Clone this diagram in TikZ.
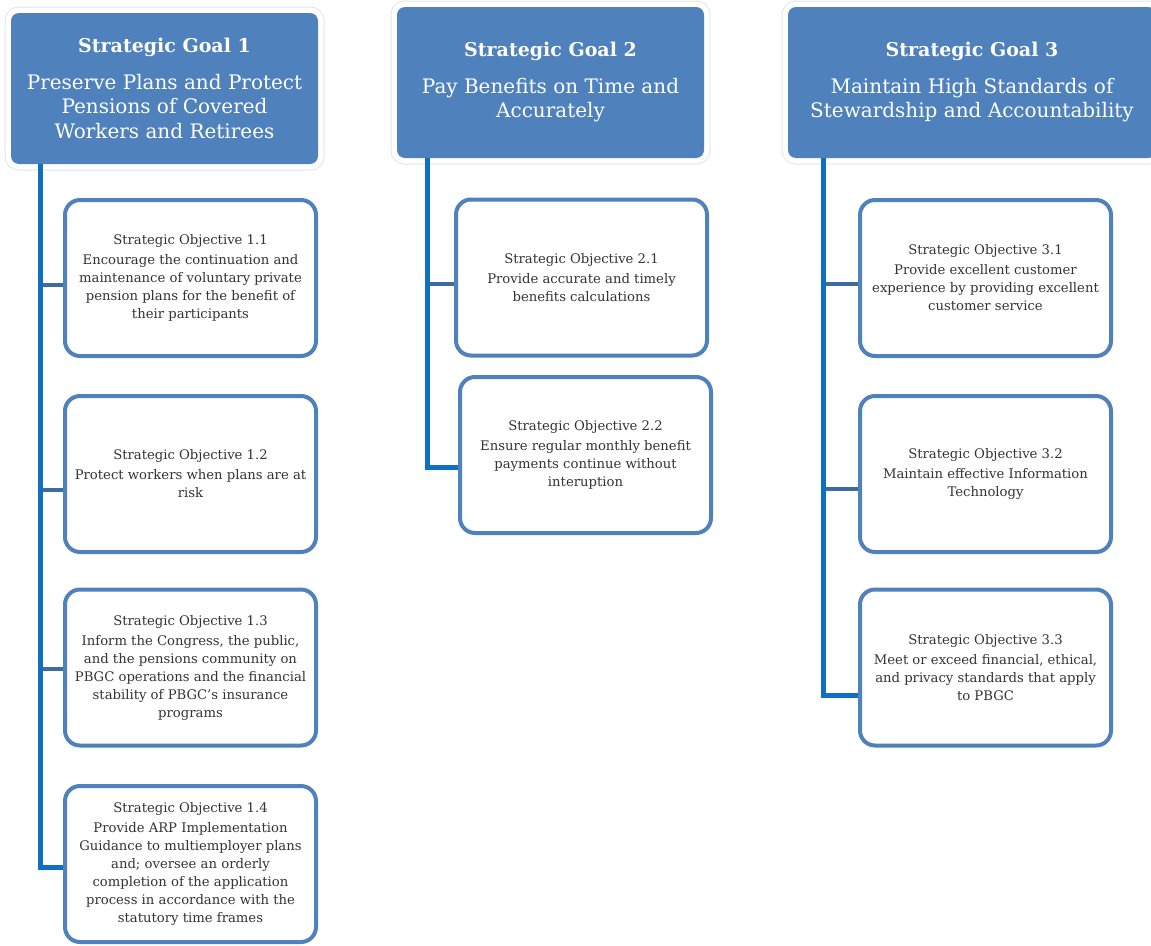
\documentclass[tikz,border=0pt]{standalone}
\usepackage{fontspec}
\setmainfont{DejaVu Serif}
\definecolor{goalblue}{HTML}{4F81BD}
\definecolor{objblue}{HTML}{4F81BD}
\definecolor{connblue}{HTML}{0F6FC0}
\definecolor{branchblue}{HTML}{3D6CA3}
\newcommand\goalfnt{\fontsize{20}{24.5}\selectfont}
\newcommand\goaltitle[1]{{\fontsize{19}{24.5}\selectfont\bfseries #1}}
\newcommand\objfnt{\fontsize{13.2}{18}\selectfont}
\begin{document}
\begin{tikzpicture}[x=1pt,y=-1pt,
  goal/.style={rounded corners=8pt, fill=goalblue, text=white, align=center,
    minimum width=307pt, minimum height=151pt, inner sep=0pt, font=\goalfnt,
    preaction={draw=black!10, line width=13pt},
    preaction={draw=white, line width=11pt}},
  obj/.style={rounded corners=15pt, draw=objblue, line width=4pt, fill=white,
    align=center, minimum width=251pt, minimum height=156pt, inner sep=0pt,
    text=black!80, font=\objfnt},
  trunk/.style={draw=connblue, line width=5pt},
  branch/.style={draw=branchblue, line width=4pt}]
\useasboundingbox (0,0) rectangle (1151,945);
\fill[white] (0,0) rectangle (1151,945);

% trunk coordinates
\coordinate (b11) at (40,285);
\coordinate (b12) at (40,490);
\coordinate (b13) at (40,669);
\coordinate (e1) at (40,867);
\coordinate (b21) at (427,284);
\coordinate (e2) at (427,467);
\coordinate (b31) at (823,284);
\coordinate (b32) at (823,489);
\coordinate (e3) at (823,695);

% objectives
\node[obj] (o11) at (190.5,278) {Strategic Objective 1.1\\[2pt]Encourage the continuation and\\maintenance of voluntary private\\pension plans for the benefit of\\their participants};
\node[obj] (o12) at (190.5,474) {Strategic Objective 1.2\\[2pt]Protect workers when plans are at\\risk};
\node[obj] (o13) at (190.5,667.5) {Strategic Objective 1.3\\[2pt]Inform the Congress, the public,\\and the pensions community on\\PBGC operations and the financial\\stability of PBGC's insurance\\programs};
\node[obj] (o14) at (190.5,864) {Strategic Objective 1.4\\[2pt]Provide ARP Implementation\\Guidance to multiemployer plans\\and; oversee an orderly\\completion of the application\\process in accordance with the\\statutory time frames};
\node[obj] (o21) at (581.5,277.5) {Strategic Objective 2.1\\[2pt]Provide accurate and timely\\benefits calculations};
\node[obj] (o22) at (585.5,455) {Strategic Objective 2.2\\[2pt]Ensure regular monthly benefit\\payments continue without\\interuption};
\node[obj] (o31) at (985.5,278) {Strategic Objective 3.1\\[2pt]Provide excellent customer\\experience by providing excellent\\customer service};
\node[obj] (o32) at (985.5,474) {Strategic Objective 3.2\\[2pt]Maintain effective Information\\Technology};
\node[obj] (o33) at (985.5,667.5) {Strategic Objective 3.3\\[2pt]Meet or exceed financial, ethical,\\and privacy standards that apply\\to PBGC};

% goals
\node[goal] (g1) at (164.5,88.5) {\goaltitle{Strategic Goal 1}\\[12pt]Preserve Plans and Protect\\Pensions of Covered\\Workers and Retirees};
\node[goal] (g2) at (550.5,82.5) {\goaltitle{Strategic Goal 2}\\[12pt]Pay Benefits on Time and\\Accurately};
\node[goal, minimum width=368pt] (g3) at (972,82.5) {\goaltitle{Strategic Goal 3}\\[12pt]Maintain High Standards of\\Stewardship and Accountability};

% connectors
\draw[branch] (b11) -- (b11 -| o11.west);
\draw[branch] (b12) -- (b12 -| o12.west);
\draw[branch] (b13) -- (b13 -| o13.west);
\draw[trunk] (g1.south -| e1) -- (e1) -- (e1 -| o14.west);
\draw[branch] (b21) -- (b21 -| o21.west);
\draw[trunk] (g2.south -| e2) -- (e2) -- (e2 -| o22.west);
\draw[branch] (b31) -- (b31 -| o31.west);
\draw[branch] (b32) -- (b32 -| o32.west);
\draw[trunk] (g3.south -| e3) -- (e3) -- (e3 -| o33.west);
\end{tikzpicture}
\end{document}
